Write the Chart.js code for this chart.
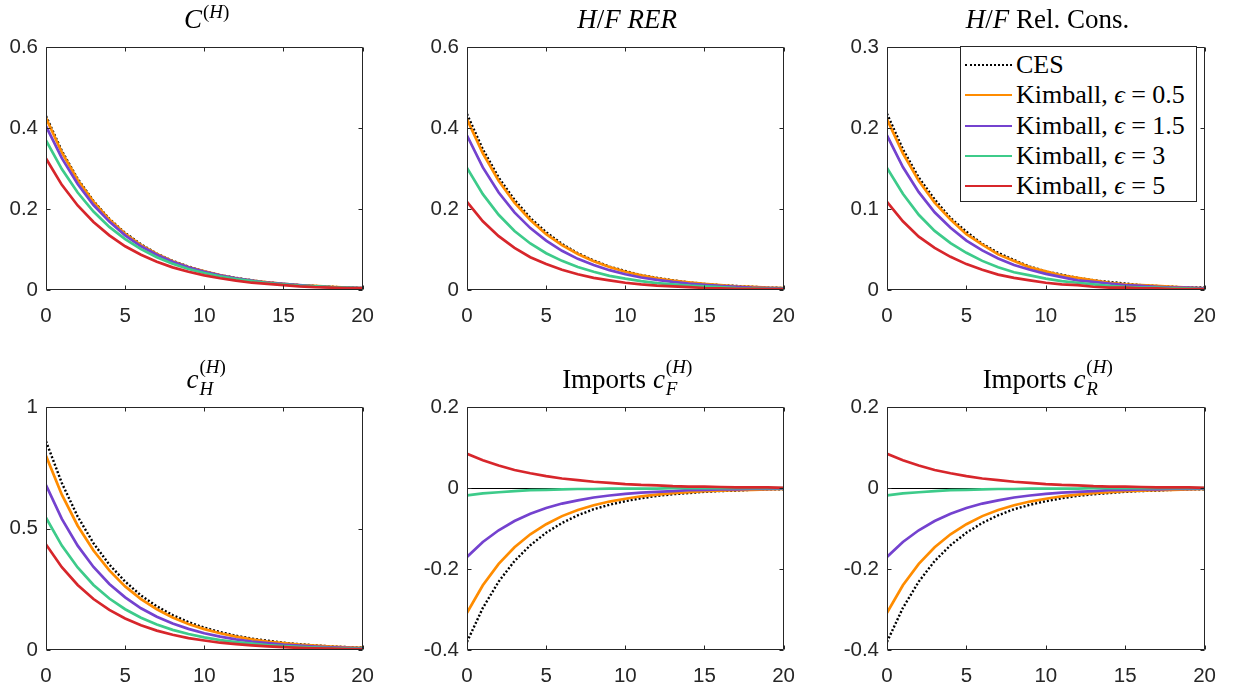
<!DOCTYPE html>
<html>
<head>
<meta charset="utf-8">
<script src="https://cdn.jsdelivr.net/npm/chart.js@4.4.1/dist/chart.umd.min.js"></script>
<style>
  html, body { margin:0; padding:0; background:#fff; }
  body { width:1236px; height:689px; position:relative; overflow:hidden; }
  .panel { position:absolute; }
  .title { position:absolute; text-align:center; font-family:"Liberation Serif","DejaVu Serif",serif; font-size:27px; color:#000; white-space:nowrap; line-height:30px; height:30px; }
  .ss { display:inline-block; position:relative; height:0; vertical-align:baseline; }
  .ss .up, .ss .dn { position:absolute; left:1px; font-size:19px; line-height:1; white-space:nowrap; }
  #legend { position:absolute; left:960px; top:46px; width:237px; height:156px; border:1px solid #262626; background:#fff; box-sizing:border-box; font-family:"Liberation Serif","DejaVu Serif",serif; font-size:26px; color:#000; }
  .row { position:absolute; left:0; height:30px; width:236px; }
  .sample { position:absolute; left:4px; width:47px; top:14px; height:0; }
  .label { position:absolute; left:55px; top:0; line-height:30px; white-space:nowrap; }
</style>
</head>
<body>
<script>
// ---------------- DATA ----------------
const PERIODS = [0,1,2,3,4,5,6,7,8,9,10,11,12,13,14,15,16,17,18,19,20];
const SERIES_NAMES = ["CES", "Kimball, ϵ = 0.5", "Kimball, ϵ = 1.5", "Kimball, ϵ = 3", "Kimball, ϵ = 5"];

// C^(H)
const C_CES  = [0.430,0.344,0.275,0.220,0.176,0.141,0.113,0.090,0.072,0.058,0.046,0.037,0.030,0.024,0.019,0.015,0.012,0.010,0.008,0.006,0.005];
const C_K05  = [0.425,0.340,0.272,0.218,0.174,0.139,0.111,0.089,0.071,0.057,0.046,0.037,0.029,0.023,0.019,0.015,0.012,0.010,0.008,0.006,0.005];
const C_K15  = [0.405,0.326,0.262,0.210,0.169,0.135,0.108,0.087,0.070,0.056,0.045,0.036,0.029,0.023,0.018,0.015,0.012,0.009,0.007,0.006,0.005];
const C_K3   = [0.370,0.299,0.241,0.194,0.156,0.126,0.101,0.081,0.065,0.052,0.042,0.034,0.027,0.022,0.017,0.014,0.011,0.009,0.007,0.006,0.004];
const C_K5   = [0.325,0.260,0.209,0.168,0.135,0.108,0.087,0.070,0.056,0.045,0.036,0.029,0.023,0.018,0.015,0.012,0.009,0.007,0.006,0.005,0.004];

// H/F RER
const RER_CES = [0.435,0.348,0.278,0.223,0.178,0.143,0.114,0.091,0.073,0.058,0.047,0.037,0.030,0.024,0.019,0.015,0.012,0.010,0.008,0.006,0.005];
const RER_K05 = [0.422,0.338,0.270,0.216,0.173,0.138,0.111,0.089,0.071,0.057,0.045,0.036,0.029,0.023,0.019,0.015,0.012,0.009,0.008,0.006,0.005];
const RER_K15 = [0.382,0.303,0.241,0.192,0.153,0.122,0.097,0.077,0.062,0.049,0.039,0.031,0.025,0.020,0.016,0.013,0.010,0.008,0.006,0.005,0.004];
const RER_K3  = [0.302,0.237,0.186,0.146,0.115,0.091,0.072,0.057,0.045,0.035,0.028,0.022,0.017,0.014,0.011,0.009,0.007,0.005,0.004,0.003,0.003];
const RER_K5  = [0.218,0.170,0.133,0.104,0.081,0.064,0.050,0.039,0.030,0.024,0.018,0.014,0.011,0.009,0.007,0.005,0.004,0.003,0.003,0.002,0.002];

// H/F Rel. Cons.
const REL_CES = [0.218,0.174,0.139,0.112,0.089,0.072,0.057,0.046,0.037,0.029,0.023,0.019,0.015,0.012,0.010,0.008,0.006,0.005,0.004,0.003,0.003];
const REL_K05 = [0.211,0.169,0.135,0.108,0.087,0.069,0.056,0.044,0.036,0.028,0.023,0.018,0.015,0.012,0.009,0.007,0.006,0.005,0.004,0.003,0.002];
const REL_K15 = [0.191,0.152,0.121,0.096,0.077,0.061,0.049,0.039,0.031,0.025,0.020,0.016,0.012,0.010,0.008,0.006,0.005,0.004,0.003,0.003,0.002];
const REL_K3  = [0.151,0.119,0.093,0.073,0.058,0.046,0.036,0.028,0.022,0.018,0.014,0.011,0.009,0.007,0.005,0.004,0.003,0.003,0.002,0.002,0.001];
const REL_K5  = [0.109,0.085,0.066,0.052,0.041,0.032,0.025,0.019,0.015,0.012,0.009,0.007,0.006,0.004,0.003,0.003,0.002,0.002,0.001,0.001,0.001];

// c_H^(H)
const CH_CES = [0.860,0.688,0.550,0.440,0.352,0.282,0.225,0.180,0.144,0.115,0.092,0.074,0.059,0.047,0.038,0.030,0.024,0.019,0.015,0.012,0.010];
const CH_K05 = [0.800,0.640,0.512,0.410,0.328,0.262,0.210,0.168,0.134,0.107,0.086,0.069,0.055,0.044,0.035,0.028,0.022,0.018,0.014,0.011,0.009];
const CH_K15 = [0.680,0.540,0.430,0.342,0.272,0.217,0.172,0.137,0.109,0.087,0.069,0.055,0.044,0.035,0.028,0.022,0.018,0.014,0.011,0.009,0.007];
const CH_K3  = [0.545,0.430,0.340,0.268,0.212,0.168,0.133,0.105,0.083,0.066,0.052,0.041,0.033,0.026,0.020,0.016,0.013,0.010,0.008,0.006,0.005];
const CH_K5  = [0.435,0.341,0.268,0.210,0.165,0.130,0.102,0.080,0.063,0.049,0.039,0.030,0.024,0.019,0.015,0.012,0.009,0.007,0.006,0.004,0.003];

// Imports c_F^(H)
const CF_CES = [-0.380,-0.296,-0.231,-0.180,-0.141,-0.110,-0.086,-0.067,-0.052,-0.041,-0.032,-0.025,-0.019,-0.015,-0.012,-0.009,-0.007,-0.006,-0.004,-0.003,-0.003];
const CF_K05 = [-0.308,-0.240,-0.187,-0.146,-0.114,-0.089,-0.069,-0.054,-0.042,-0.033,-0.026,-0.020,-0.016,-0.012,-0.010,-0.007,-0.006,-0.005,-0.004,-0.003,-0.002];
const CF_K15 = [-0.170,-0.133,-0.104,-0.081,-0.063,-0.049,-0.038,-0.030,-0.023,-0.018,-0.014,-0.011,-0.009,-0.007,-0.005,-0.004,-0.003,-0.003,-0.002,-0.002,-0.001];
const CF_K3  = [-0.018,-0.013,-0.010,-0.007,-0.005,-0.004,-0.003,-0.002,-0.002,-0.001,-0.001,-0.001,-0.001,0.000,0.000,0.000,0.000,0.000,0.000,0.000,0.000];
const CF_K5  = [0.085,0.069,0.056,0.045,0.037,0.030,0.024,0.020,0.016,0.013,0.010,0.008,0.007,0.005,0.004,0.004,0.003,0.002,0.002,0.002,0.001];

// Imports c_R^(H)
const CR_CES = [-0.380,-0.296,-0.231,-0.180,-0.141,-0.110,-0.086,-0.067,-0.052,-0.041,-0.032,-0.025,-0.019,-0.015,-0.012,-0.009,-0.007,-0.006,-0.004,-0.003,-0.003];
const CR_K05 = [-0.308,-0.240,-0.187,-0.146,-0.114,-0.089,-0.069,-0.054,-0.042,-0.033,-0.026,-0.020,-0.016,-0.012,-0.010,-0.007,-0.006,-0.005,-0.004,-0.003,-0.002];
const CR_K15 = [-0.170,-0.133,-0.104,-0.081,-0.063,-0.049,-0.038,-0.030,-0.023,-0.018,-0.014,-0.011,-0.009,-0.007,-0.005,-0.004,-0.003,-0.003,-0.002,-0.002,-0.001];
const CR_K3  = [-0.018,-0.013,-0.010,-0.007,-0.005,-0.004,-0.003,-0.002,-0.002,-0.001,-0.001,-0.001,-0.001,0.000,0.000,0.000,0.000,0.000,0.000,0.000,0.000];
const CR_K5  = [0.085,0.069,0.056,0.045,0.037,0.030,0.024,0.020,0.016,0.013,0.010,0.008,0.007,0.005,0.004,0.004,0.003,0.002,0.002,0.002,0.001];

const X_TICKS = [0,5,10,15,20];
const Y_TICKS_1 = [0,0.2,0.4,0.6];
const Y_TICKS_2 = [0,0.2,0.4,0.6];
const Y_TICKS_3 = [0,0.1,0.2,0.3];
const Y_TICKS_4 = [0,0.5,1];
const Y_TICKS_5 = [-0.4,-0.2,0,0.2];
const Y_TICKS_6 = [-0.4,-0.2,0,0.2];

// ---------------- STYLE ----------------
const COLORS = ["#000000", "#FF8C00", "#7442CF", "#3DCB8A", "#D7262B"];
const AXIS = "#262626";

function supOnly(sup) {
  return '<span class="ss" style="width:26px"><span class="up" style="bottom:7px">' + sup + '</span></span>';
}
function supSub(sup, sub) {
  return '<span class="ss" style="width:27px"><span class="up" style="bottom:12px">' + sup +
         '</span><span class="dn" style="bottom:-10px">' + sub + '</span></span>';
}

const PANELS = [
  {l:46,  t:42,  w:320, h:248, series:[C_CES,C_K05,C_K15,C_K3,C_K5],           yt:Y_TICKS_1, zero:false,
   title:'<i>C</i>' + supOnly('(<i>H</i>)')},
  {l:467, t:42,  w:320, h:248, series:[RER_CES,RER_K05,RER_K15,RER_K3,RER_K5], yt:Y_TICKS_2, zero:false,
   title:'<i>H</i>/<i>F</i> <i>RER</i>'},
  {l:887, t:42,  w:321, h:248, series:[REL_CES,REL_K05,REL_K15,REL_K3,REL_K5], yt:Y_TICKS_3, zero:false,
   title:'<i>H</i>/<i>F</i> Rel. Cons.'},
  {l:46,  t:402, w:320, h:248, series:[CH_CES,CH_K05,CH_K15,CH_K3,CH_K5],      yt:Y_TICKS_4, zero:false,
   title:'<i>c</i>' + supSub('(<i>H</i>)', '<i>H</i>')},
  {l:467, t:402, w:320, h:248, series:[CF_CES,CF_K05,CF_K15,CF_K3,CF_K5],      yt:Y_TICKS_5, zero:true,
   title:'Imports <i>c</i>' + supSub('(<i>H</i>)', '<i>F</i>')},
  {l:887, t:402, w:321, h:248, series:[CR_CES,CR_K05,CR_K15,CR_K3,CR_K5],      yt:Y_TICKS_6, zero:true,
   title:'Imports <i>c</i>' + supSub('(<i>H</i>)', '<i>R</i>')}
];

const PAD_T = 15, PAD_R = 22, YW = 46, XH = 40;

const boxPlugin = {
  id: 'matlabBox',
  beforeDatasetsDraw(chart, args, opts) {
    if (!opts.zero) return;
    const ctx = chart.ctx, a = chart.chartArea, y = chart.scales.y.getPixelForValue(0);
    ctx.save();
    ctx.strokeStyle = '#000'; ctx.lineWidth = 1;
    ctx.beginPath(); ctx.moveTo(a.left, Math.round(y)+0.5); ctx.lineTo(a.right, Math.round(y)+0.5); ctx.stroke();
    ctx.restore();
  },
  afterDraw(chart) {
    const ctx = chart.ctx, a = chart.chartArea;
    const xs = chart.scales.x, ys = chart.scales.y;
    ctx.save();
    ctx.strokeStyle = AXIS; ctx.lineWidth = 1;
    const L = Math.round(a.left)+0.5, R = Math.round(a.right)-0.5, T = Math.round(a.top)+0.5, B = Math.round(a.bottom)-0.5;
    ctx.beginPath();
    ctx.rect(L, T, R-L, B-T);
    const tl = 4;
    xs.ticks.forEach(t => {
      const px = Math.round(xs.getPixelForValue(t.value))+0.5;
      ctx.moveTo(px, B); ctx.lineTo(px, B-tl);
      ctx.moveTo(px, T); ctx.lineTo(px, T+tl);
    });
    ys.ticks.forEach(t => {
      const py = Math.round(ys.getPixelForValue(t.value))+0.5;
      ctx.moveTo(L, py); ctx.lineTo(L+tl, py);
      ctx.moveTo(R, py); ctx.lineTo(R-tl, py);
    });
    ctx.stroke();
    ctx.restore();
  }
};

PANELS.forEach((p, i) => {
  const div = document.createElement('div');
  div.className = 'panel';
  div.style.left = (p.l - YW) + 'px';
  div.style.top = (p.t - PAD_T) + 'px';
  div.style.width = (p.w + YW + PAD_R) + 'px';
  div.style.height = (p.h + PAD_T + XH) + 'px';
  const cv = document.createElement('canvas');
  div.appendChild(cv);
  document.body.appendChild(div);

  const ttl = document.createElement('div');
  ttl.className = 'title';
  ttl.style.left = p.l + 'px';
  ttl.style.width = p.w + 'px';
  ttl.style.top = (p.t - 38) + 'px';
  ttl.innerHTML = p.title;
  document.body.appendChild(ttl);

  const yt = p.yt;
  const datasets = p.series.map((vals, k) => ({
    label: SERIES_NAMES[k],
    data: PERIODS.map((x, j) => ({x: x, y: vals[j]})),
    borderColor: COLORS[k],
    borderWidth: k === 0 ? 2.4 : 2.7,
    borderDash: k === 0 ? [2, 2] : [],
    pointRadius: 0,
    tension: 0,
    fill: false,
    order: 5 - k
  }));

  new Chart(cv, {
    type: 'line',
    data: { datasets },
    options: {
      responsive: true,
      maintainAspectRatio: false,
      animation: false,
      events: [],
      layout: { padding: { top: PAD_T, right: PAD_R, left: 0, bottom: 0 } },
      plugins: { legend: { display: false }, tooltip: { enabled: false }, matlabBox: { zero: p.zero } },
      scales: {
        x: {
          type: 'linear', min: 0, max: 20,
          afterBuildTicks: s => { s.ticks = X_TICKS.map(v => ({value: v})); },
          afterFit: s => { s.height = XH; },
          grid: { display: false, drawTicks: false },
          border: { display: false },
          ticks: { color: AXIS, font: { family: '"Liberation Sans", Arial, sans-serif', size: 20.5 }, padding: 14, maxRotation: 0,
                   callback: v => String(v) }
        },
        y: {
          type: 'linear', min: yt[0], max: yt[yt.length-1],
          afterBuildTicks: s => { s.ticks = yt.map(v => ({value: v})); },
          afterFit: s => { s.width = YW; },
          grid: { display: false, drawTicks: false },
          border: { display: false },
          ticks: { color: AXIS, font: { family: '"Liberation Sans", Arial, sans-serif', size: 20.5 }, padding: 8,
                   callback: v => String(Number(v.toFixed(2))) }
        }
      }
    },
    plugins: [boxPlugin]
  });
});

// legend (HTML)
const lg = document.createElement('div');
lg.id = 'legend';
const legendHTML = ['CES', 'Kimball, <i>ϵ</i> = 0.5', 'Kimball, <i>ϵ</i> = 1.5', 'Kimball, <i>ϵ</i> = 3', 'Kimball, <i>ϵ</i> = 5'];
SERIES_NAMES.forEach((name, k) => {
  const row = document.createElement('div');
  row.className = 'row';
  row.style.top = (3 + k * 30.3) + 'px';
  const s = document.createElement('div');
  s.className = 'sample';
  s.style.borderTop = k === 0 ? '2.5px dotted #000' : ('2.7px solid ' + COLORS[k]);
  const t = document.createElement('div');
  t.className = 'label';
  t.innerHTML = legendHTML[k];
  row.appendChild(s); row.appendChild(t);
  lg.appendChild(row);
});
document.body.appendChild(lg);
</script>
</body>
</html>
